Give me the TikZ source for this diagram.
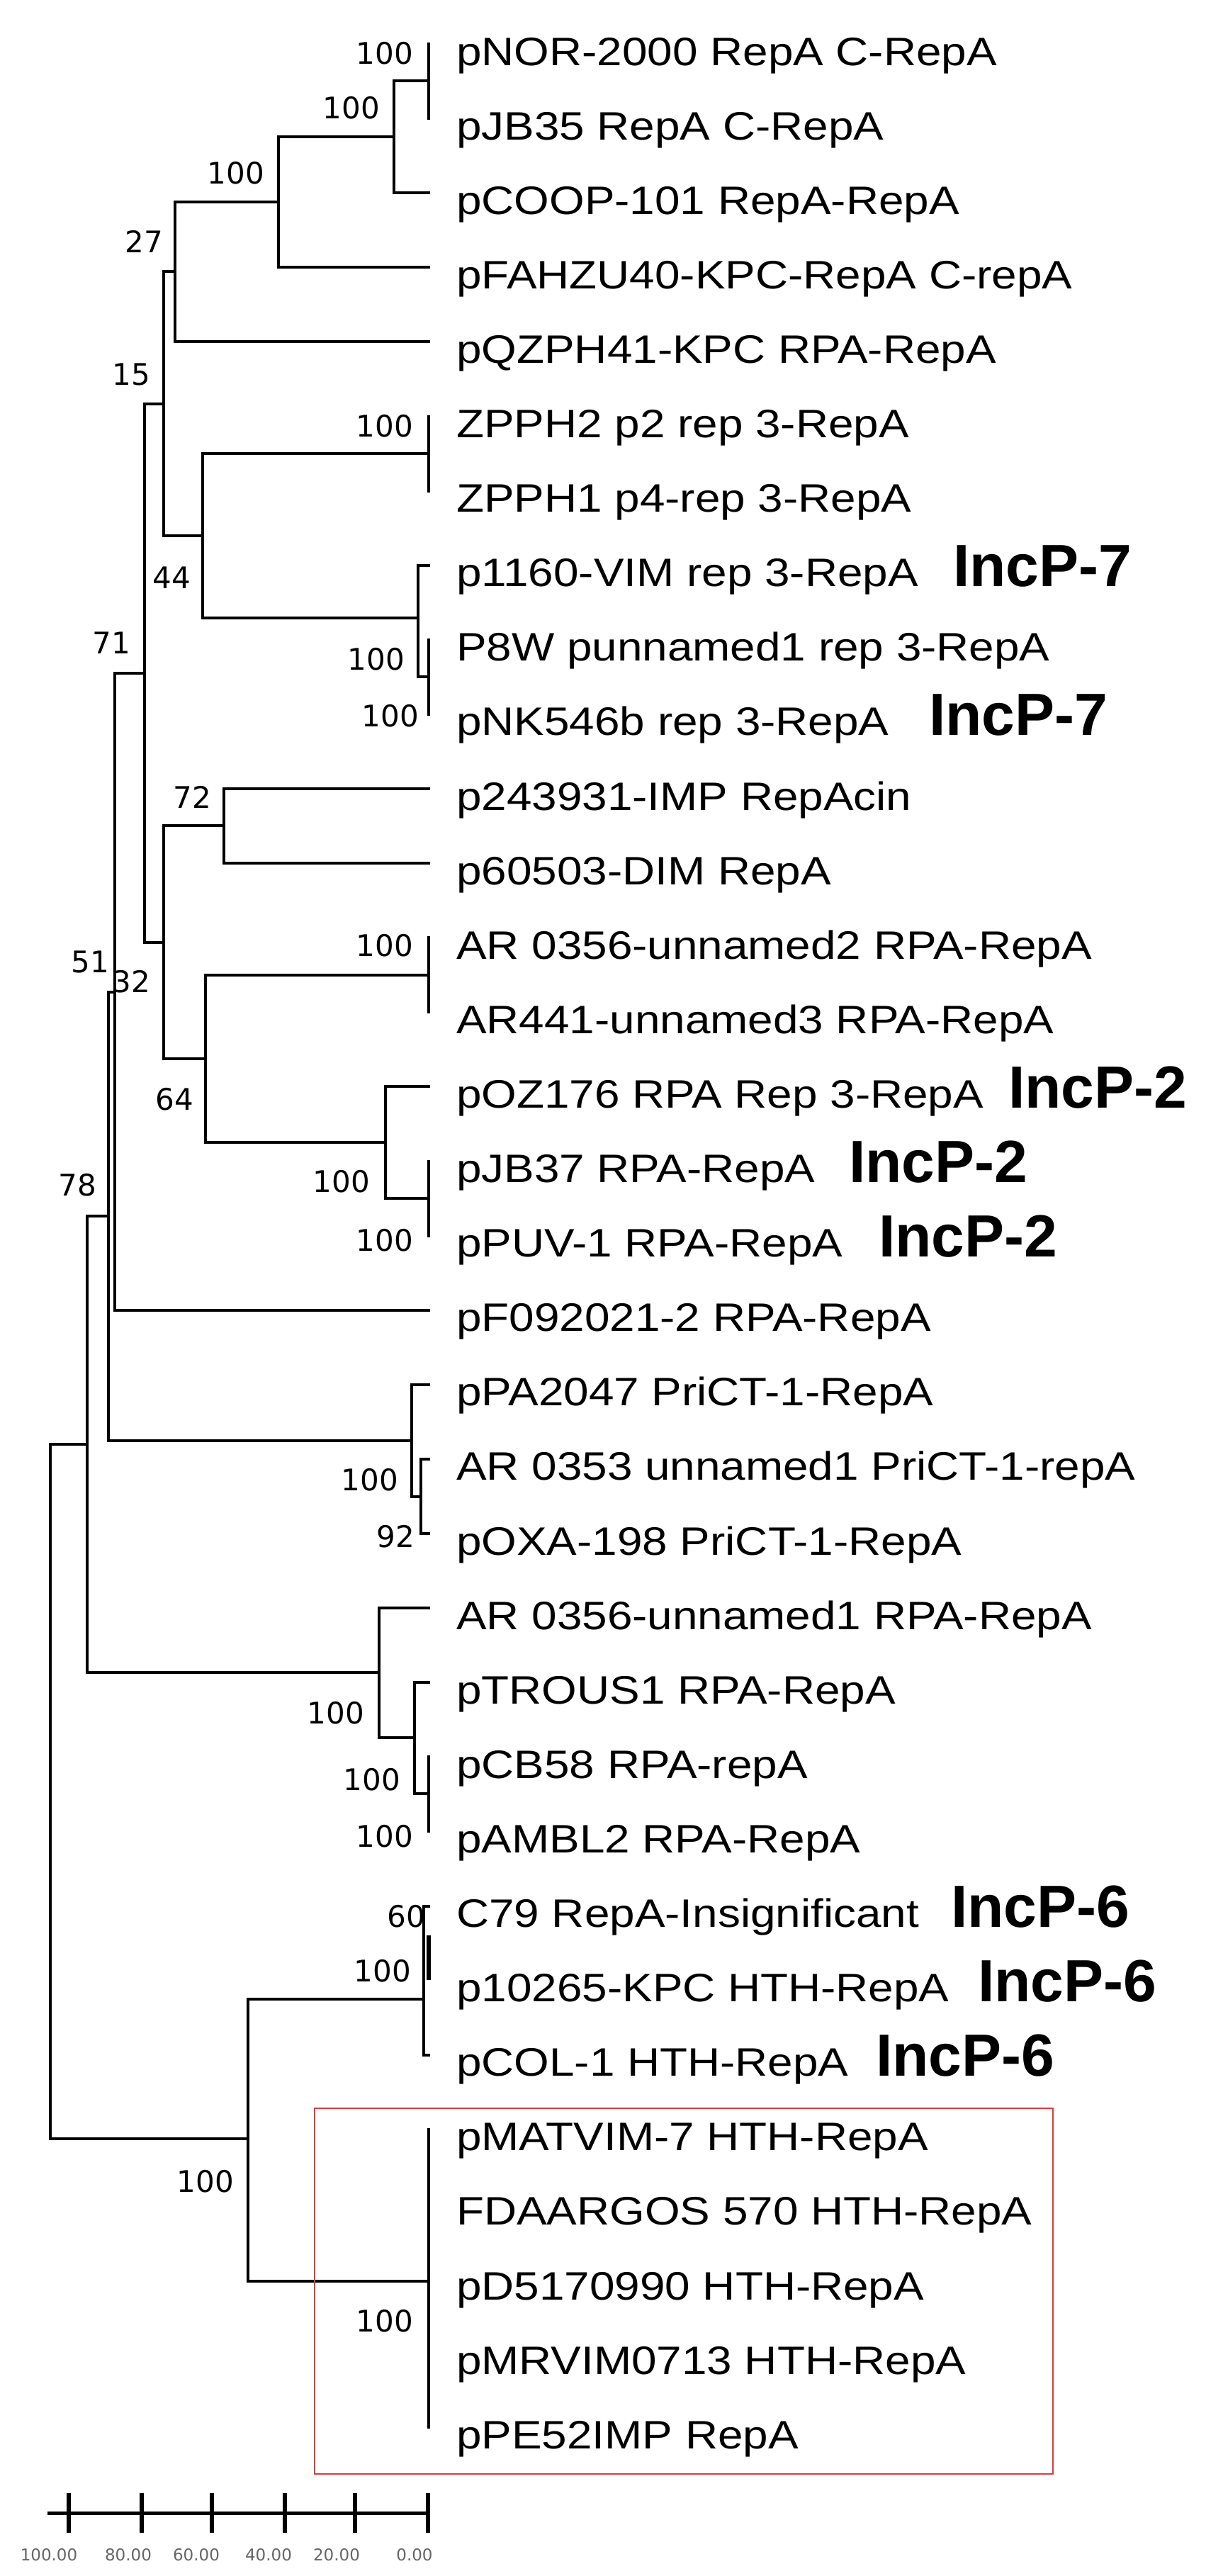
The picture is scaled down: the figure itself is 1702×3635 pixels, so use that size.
\documentclass[tikz,border=0pt]{standalone}
\usepackage{fontspec}
\newfontfamily\labfont[FakeStretch=1.14]{Liberation Sans}
\newfontfamily\incfont{Liberation Sans}
\newfontfamily\supfont{DejaVu Sans}
\begin{document}
\begin{tikzpicture}[x=1pt,y=-1pt,
  br/.style={line width=3.5pt,line cap=rect},
  leaf/.style={anchor=base west,inner sep=0pt,font=\labfont\fontsize{56}{60}\selectfont},
  inc/.style={anchor=base west,inner sep=0pt,font=\incfont\bfseries\fontsize{84}{90}\selectfont},
  sup/.style={anchor=base east,inner sep=0pt,font=\supfont\fontsize{42}{46}\selectfont},
  sc/.style={anchor=base,inner sep=0pt,text=black!60,font=\supfont\fontsize{23}{26}\selectfont}]
\useasboundingbox[fill=white] (0,0) rectangle (1702,3635);
% leaf labels
\foreach \t [count=\i from 0] in {pNOR-2000 RepA C-RepA,pJB35 RepA C-RepA,pCOOP-101 RepA-RepA,pFAHZU40-KPC-RepA C-repA,pQZPH41-KPC RPA-RepA,ZPPH2 p2 rep 3-RepA,ZPPH1 p4-rep 3-RepA,p1160-VIM rep 3-RepA,P8W punnamed1 rep 3-RepA,pNK546b rep 3-RepA,p243931-IMP RepAcin,p60503-DIM RepA,AR 0356-unnamed2 RPA-RepA,AR441-unnamed3 RPA-RepA,pOZ176 RPA Rep 3-RepA,pJB37 RPA-RepA,pPUV-1 RPA-RepA,pF092021-2 RPA-RepA,pPA2047 PriCT-1-RepA,AR 0353 unnamed1 PriCT-1-repA,pOXA-198 PriCT-1-RepA,AR 0356-unnamed1 RPA-RepA,pTROUS1 RPA-RepA,pCB58 RPA-repA,pAMBL2 RPA-RepA,C79 RepA-Insignificant,p10265-KPC HTH-RepA,pCOL-1 HTH-RepA,pMATVIM-7 HTH-RepA,FDAARGOS 570 HTH-RepA,pD5170990 HTH-RepA,pMRVIM0713 HTH-RepA,pPE52IMP RepA}
  \node[leaf] (L\i) at (644,{62+105.1*\i+30}) {\t};
% IncP labels
\node[inc] (i7a) at (1345,{62+105.1*7+30}) {IncP-7};
\node[inc] (i7b) at (1311,{62+105.1*9+30}) {IncP-7};
\node[inc] (i2a) at (1423,{62+105.1*14+30}) {IncP-2};
\node[inc] (i2b) at (1198,{62+105.1*15+30}) {IncP-2};
\node[inc] (i2c) at (1240,{62+105.1*16+30}) {IncP-2};
\node[inc] (i6a) at (1342,{62+105.1*25+30}) {IncP-6};
\node[inc] (i6b) at (1380,{62+105.1*26+30}) {IncP-6};
\node[inc] (i6c) at (1236,{62+105.1*27+30}) {IncP-6};
% branches
\draw[br] (605,62)--(605,167);
\draw[br] (605,114)--(556,114)--(556,272)--(605,272);
\draw[br] (556,193)--(393,193)--(393,377)--(605,377);
\draw[br] (393,285)--(247,285)--(247,482)--(605,482);
\draw[br] (605,588)--(605,693);
\draw[br] (605,903)--(605,1008);
\draw[br] (605,955)--(590,955)--(590,798)--(605,798);
\draw[br] (605,640)--(286,640)--(286,872)--(590,872);
\draw[br] (247,383)--(231,383)--(231,756)--(286,756);
\draw[br] (605,1113)--(316,1113)--(316,1218)--(605,1218);
\draw[br] (605,1323)--(605,1428);
\draw[br] (605,1639)--(605,1744);
\draw[br] (605,1533)--(544,1533)--(544,1691)--(605,1691);
\draw[br] (605,1376)--(290,1376)--(290,1612)--(544,1612);
\draw[br] (316,1165)--(231,1165)--(231,1494)--(290,1494);
\draw[br] (231,570)--(204,570)--(204,1330)--(231,1330);
\draw[br] (204,950)--(162,950)--(162,1849)--(605,1849);
\draw[br] (605,2059)--(594,2059)--(594,2164)--(605,2164);
\draw[br] (605,1954)--(581,1954)--(581,2112)--(594,2112);
\draw[br] (162,1400)--(153,1400)--(153,2033)--(581,2033);
\draw[br] (605,2479)--(605,2584);
\draw[br] (605,2374)--(585,2374)--(585,2531)--(605,2531);
\draw[br] (605,2269)--(535,2269)--(535,2452)--(585,2452);
\draw[br] (153,1716)--(123,1716)--(123,2360)--(535,2360);
\draw[br] (605,2690)--(598,2690)--(598,2900)--(605,2900);
\draw[line width=6pt] (605,2731)--(605,2794);
\draw[br] (598,2821)--(350,2821)--(350,3219)--(605,3219);
\draw[br] (605,3005)--(605,3425);
\draw[br] (123,2038)--(71,2038)--(71,3018)--(350,3018);
% support values
\node[sup] (s1) at (583,90) {100};
\node[sup] (s2) at (536,167) {100};
\node[sup] (s3) at (373,259) {100};
\node[sup] (s4) at (230,356) {27};
\node[sup] (s5) at (212,543) {15};
\node[sup] (s6) at (583,616) {100};
\node[sup] (s7) at (269,830) {44};
\node[sup] (s8) at (184,922) {71};
\node[sup] (s9) at (571,945) {100};
\node[sup] (s10) at (591,1025) {100};
\node[sup] (s11) at (298,1140) {72};
\node[sup] (s12) at (154,1372) {51};
\node[sup] (s13) at (212,1400) {32};
\node[sup] (s14) at (583,1349) {100};
\node[sup] (s15) at (273,1566) {64};
\node[sup] (s16) at (522,1682) {100};
\node[sup] (s17) at (583,1765) {100};
\node[sup] (s18) at (136,1687) {78};
\node[sup] (s19) at (562,2103) {100};
\node[sup] (s20) at (585,2183) {92};
\node[sup] (s21) at (514,2432) {100};
\node[sup] (s22) at (565,2526) {100};
\node[sup] (s23) at (583,2606) {100};
\node[sup] (s24) at (600,2719) {60};
\node[sup] (s25) at (580,2796) {100};
\node[sup] (s26) at (330,3093) {100};
\node[sup] (s27) at (583,3290) {100};
% red box
\draw[line width=2.5pt,draw={rgb,255:red,220;green,60;blue,60}] (444,2975) rectangle (1486,3491);
% scale bar
\draw[line width=5pt] (67,3546)--(605,3546);
\foreach \x in {97,200,299,402,501,604} \draw[line width=6pt] (\x,3518)--(\x,3574);
\foreach \x/\t [count=\k] in {69/100.00,181/80.00,277/60.00,379/40.00,475/20.00,585/0.00}
  \node[sc] (sc\k) at (\x,3613) {\t};
\end{tikzpicture}
\end{document}
